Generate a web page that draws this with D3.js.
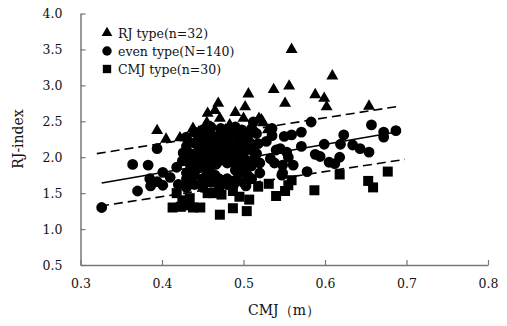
<!DOCTYPE html>
<html><head><meta charset="utf-8">
<script src="https://cdn.jsdelivr.net/npm/d3@7"></script>
<style>body{margin:0;background:#fff}svg{display:block}</style>
</head><body>
<svg id="c" width="507" height="326"></svg>
<script>
// ---- data ----
const xTicks = [0.3, 0.4, 0.5, 0.6, 0.7, 0.8];
const yTicks = [0.5, 1.0, 1.5, 2.0, 2.5, 3.0, 3.5, 4.0];
const legendLabels = ["RJ type(n=32)", "even type(N=140)", "CMJ type(n=30)"];
const xLabel = "CMJ（m）";
const yLabel = "RJ-index";

const rjType = [
 [0.394,2.37],[0.405,2.25],[0.422,2.27],[0.438,2.40],[0.455,2.48],[0.456,2.61],[0.465,2.65],[0.469,2.75],
 [0.471,2.54],[0.483,2.45],[0.478,2.38],[0.500,2.54],[0.502,2.70],[0.506,2.88],[0.519,2.54],[0.522,2.52],
 [0.524,2.48],[0.537,2.94],[0.556,2.99],[0.559,3.50],[0.551,2.75],[0.588,2.87],[0.599,2.82],[0.602,2.70],
 [0.609,3.13],[0.654,2.71],[0.490,2.62],[0.445,2.35],[0.512,2.40],[0.460,2.42],[0.495,2.30],[0.530,2.38]
];
const evenType = [
 [0.326,1.30],[0.364,1.90],[0.383,1.89],[0.370,1.53],[0.385,1.70],[0.386,1.60],[0.394,1.66],[0.401,1.79],
 [0.401,1.61],[0.394,2.12],[0.418,1.86],[0.426,2.06],[0.410,1.72],[0.420,1.62],[0.430,1.70],
 [0.583,2.49],[0.535,2.40],[0.535,2.30],[0.550,2.29],[0.559,2.31],[0.571,2.35],[0.571,2.15],[0.545,2.12],
 [0.553,2.07],[0.555,2.00],[0.561,1.89],[0.578,1.80],[0.588,2.04],[0.594,2.01],[0.599,2.18],[0.605,1.93],
 [0.612,1.91],[0.618,2.00],[0.619,2.18],[0.623,2.31],[0.634,2.17],[0.643,2.12],[0.654,2.07],[0.657,2.45],
 [0.672,2.35],[0.672,2.28],[0.687,2.37],[0.547,1.75],[0.548,1.89],[0.516,2.05],[0.518,2.19],[0.516,2.33],
 [0.520,1.92],[0.520,1.78],[0.533,1.98],[0.538,1.92],[0.512,2.49],[0.548,1.78],[0.540,2.10],[0.528,2.22],
 [0.430,1.78],[0.430,1.95],[0.430,2.15],[0.430,2.28],[0.430,1.58],
 [0.435,1.88],[0.435,2.05],[0.435,1.68],
 [0.440,1.75],[0.440,1.98],[0.440,2.20],[0.440,2.35],[0.440,1.62],
 [0.445,1.85],[0.445,2.10],[0.445,2.28],
 [0.450,1.70],[0.450,1.92],[0.450,2.02],[0.450,2.18],[0.450,2.38],[0.450,1.58],
 [0.455,1.80],[0.455,2.08],[0.455,2.25],
 [0.460,1.65],[0.460,1.88],[0.460,1.98],[0.460,2.15],[0.460,2.32],[0.460,2.42],
 [0.465,1.75],[0.465,2.05],[0.465,2.22],
 [0.470,1.70],[0.470,1.95],[0.470,2.12],[0.470,2.30],[0.470,1.58],
 [0.475,2.00],[0.475,2.18],[0.475,2.38],
 [0.480,1.70],[0.480,1.92],[0.480,2.08],[0.480,2.25],[0.480,1.62],
 [0.490,1.82],[0.485,2.02],[0.485,2.15],[0.485,2.35],
 [0.490,1.68],[0.490,1.90],[0.490,2.10],[0.490,2.28],[0.490,2.42],
 [0.495,1.78],[0.495,1.98],[0.495,2.20],
 [0.500,1.65],[0.500,1.85],[0.500,2.05],[0.500,2.15],[0.500,2.35],
 [0.505,1.75],[0.505,1.95],[0.505,2.28],
 [0.510,1.70],[0.510,1.88],[0.510,2.10],[0.510,2.40],
 [0.425,1.95],[0.432,2.22],[0.442,1.90],[0.452,2.30],[0.458,1.72],[0.466,1.90],[0.472,2.40],[0.478,2.30],
 [0.488,1.62],[0.492,2.00],[0.498,2.38],[0.503,1.60],[0.508,2.20],[0.513,1.98]
];
const cmjType = [
 [0.413,1.30],[0.423,1.31],[0.430,1.33],[0.447,1.30],[0.438,1.30],[0.471,1.20],[0.487,1.29],[0.504,1.25],
 [0.507,1.41],[0.418,1.50],[0.434,1.43],[0.456,1.50],[0.473,1.48],[0.487,1.53],[0.470,1.65],[0.483,1.64],
 [0.518,1.59],[0.531,1.63],[0.540,1.46],[0.551,1.53],[0.555,1.61],[0.559,1.68],[0.587,1.54],[0.618,1.76],
 [0.653,1.67],[0.659,1.58],[0.677,1.80],[0.462,1.50],[0.495,1.45],[0.425,1.40]
];
// regression lines: [x0,y0,x1,y1]
const lineUpper = [0.320, 2.05, 0.691, 2.71];
const lineMid   = [0.326, 1.64, 0.688, 2.35];
const lineLower = [0.324, 1.32, 0.698, 1.97];

// ---- drawing ----
const svg = d3.select("#c");
const x = d3.scaleLinear().domain([0.3, 0.8]).range([80.5, 488]);
const y = d3.scaleLinear().domain([0.5, 4.0]).range([265, 13.5]);
const font = "'DejaVu Serif', 'Liberation Serif', serif";
const axisColor = "#777";

const gx = svg.append("g").attr("transform", "translate(0,265)")
  .call(d3.axisBottom(x).tickValues(xTicks).tickFormat(d3.format(".1f")).tickSizeInner(-5).tickSizeOuter(0).tickPadding(14));
const gy = svg.append("g").attr("transform", "translate(80.5,0)")
  .call(d3.axisLeft(y).tickValues(yTicks).tickFormat(d3.format(".1f")).tickSizeInner(-5).tickSizeOuter(0).tickPadding(18));
[gx, gy].forEach(g => {
  g.select(".domain").attr("stroke", axisColor).attr("stroke-width", 1.5);
  g.selectAll(".tick line").attr("stroke", axisColor).attr("stroke-width", 1.2);
  g.selectAll("text").attr("font-family", font).attr("font-size", 12.5).attr("fill", "#111");
});

// regression lines
const plotLine = (l, dash) => svg.append("line")
  .attr("x1", x(l[0])).attr("y1", y(l[1])).attr("x2", x(l[2])).attr("y2", y(l[3]))
  .attr("stroke", "#000").attr("stroke-width", 1.6)
  .attr("stroke-dasharray", dash);
plotLine(lineUpper, "9,5");
plotLine(lineMid, null);
plotLine(lineLower, "9,5");

const tri = d3.symbol().type(d3.symbolTriangle).size(62);
const circ = d3.symbol().type(d3.symbolCircle).size(92);
const sq = d3.symbol().type(d3.symbolSquare).size(100);

svg.append("g").selectAll("path").data(rjType).join("path")
  .attr("d", tri).attr("transform", d => `translate(${x(d[0])},${y(d[1])})`).attr("fill", "#000");
svg.append("g").selectAll("path").data(evenType).join("path")
  .attr("d", circ).attr("transform", d => `translate(${x(d[0])},${y(d[1])})`).attr("fill", "#000");
svg.append("g").selectAll("path").data(cmjType).join("path")
  .attr("d", sq).attr("transform", d => `translate(${x(d[0])},${y(d[1])})`).attr("fill", "#000");

// legend
const legendSyms = [d3.symbol().type(d3.symbolTriangle).size(50), d3.symbol().type(d3.symbolCircle).size(70), d3.symbol().type(d3.symbolSquare).size(70)];
const lg = svg.append("g");
legendLabels.forEach((t, i) => {
  const yy = 33 + i * 18;
  lg.append("path").attr("d", legendSyms[i]).attr("transform", `translate(107,${yy})`).attr("fill", "#000");
  lg.append("text").attr("x", 118).attr("y", yy + 4.5).attr("font-family", font).attr("font-size", 12.5).attr("fill", "#111").text(t);
});

// axis titles
svg.append("text").attr("x", 284).attr("y", 315).attr("text-anchor", "middle")
  .attr("font-family", font).attr("font-size", 14).attr("fill", "#111").text(xLabel);
svg.append("text").attr("transform", "translate(23,139) rotate(-90)").attr("text-anchor", "middle")
  .attr("font-family", font).attr("font-size", 14).attr("fill", "#111").text(yLabel);
</script>
</body></html>
